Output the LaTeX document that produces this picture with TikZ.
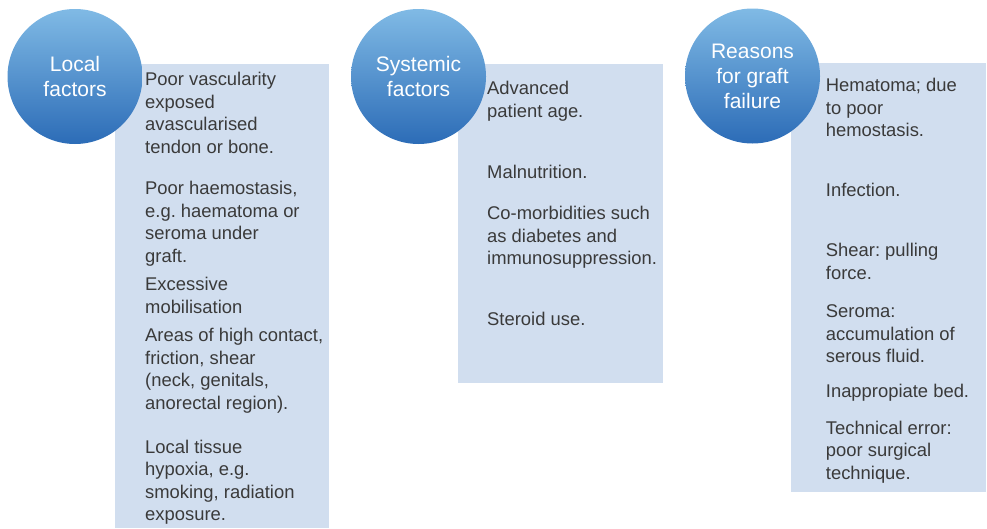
\documentclass[tikz,border=0pt]{standalone}
\usepackage{fontspec}
\setmainfont{Liberation Sans}
\frenchspacing
\definecolor{boxfill}{RGB}{209,222,239}
\definecolor{circtop}{RGB}{128,186,229}
\definecolor{circbot}{RGB}{44,108,183}
\definecolor{txt}{RGB}{58,58,58}
\begin{document}
\begin{tikzpicture}[x=1pt,y=-1pt,
  panel/.style={fill=boxfill,draw=none},
  bubble/.style={circle,minimum size=135pt,inner sep=0pt,top color=circtop,bottom color=circbot,draw=none,
    text=white,align=center,font=\fontsize{21}{25}\selectfont},
  item/.style={anchor=north west,yshift=13.8pt,inner sep=0pt,align=left,text=txt,
    font=\fontsize{18.4}{22.6}\selectfont,execute at begin node=\strut}]
\useasboundingbox (0,0) rectangle (987,528);
% panels
\fill[panel] (115,64) rectangle (329,528);
\fill[panel] (458,64) rectangle (663,383);
\fill[panel] (791,63) rectangle (986,492);
% circles
\node[bubble] (c1) at (75,76.5) {Local\\factors};
\node[bubble] (c2) at (418.5,76.5) {Systemic\\factors};
\node[bubble] (c3) at (752.5,76) {Reasons\\for graft\\failure};
% column 1
\node[item] (a1) at (145,86) {Poor vascularity\\exposed\\avascularised\\tendon or bone.};
\node[item] (a2) at (145,195) {Poor haemostasis,\\e.g. haematoma or\\seroma under\\graft.};
\node[item] (a3) at (145,290.7) {Excessive\\mobilisation};
\node[item] (a4) at (145,341.7) {Areas of high contact,\\friction, shear\\(neck, genitals,\\anorectal region).};
\node[item] (a5) at (145,453.3) {Local tissue\\hypoxia, e.g.\\smoking, radiation\\exposure.};
% column 2
\node[item] (b1) at (487,95) {Advanced\\patient age.};
\node[item] (b2) at (487,176.7) {Malnutrition.};
\node[item] (b3) at (487,220) {Co-morbidities such\\as diabetes and\\immunosuppression.};
\node[item] (b4) at (487,323.3) {Steroid use.};
% column 3
\node[item] (d1) at (825.7,91.7) {Hematoma; due\\to poor\\hemostasis.};
\node[item] (d2) at (825.7,194) {Infection.};
\node[item] (d3) at (825.7,256.7) {Shear: pulling\\force.};
\node[item] (d4) at (825.7,318.3) {Seroma:\\accumulation of\\serous fluid.};
\node[item] (d5) at (825.7,395) {Inappropiate bed.};
\node[item] (d6) at (825.7,434.3) {Technical error:\\poor surgical\\technique.};
\end{tikzpicture}
\end{document}
